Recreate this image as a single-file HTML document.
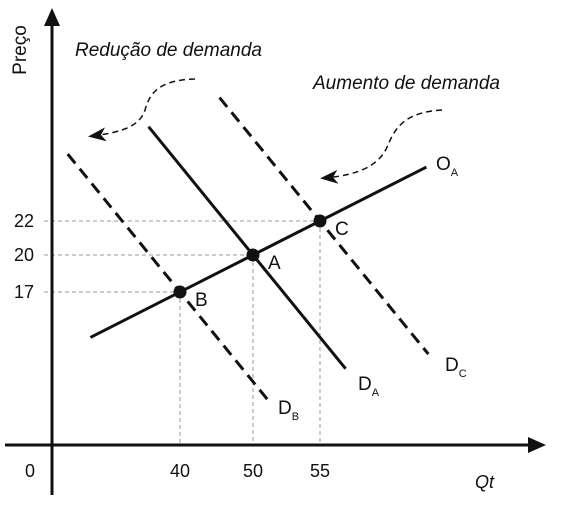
<!DOCTYPE html>
<html><head><meta charset="utf-8"><style>
body{margin:0;background:#fff}
svg{display:block}
text{font-family:"Liberation Sans",sans-serif;fill:#111}
</style></head><body>
<svg id="c" width="585" height="510" viewBox="0 0 585 510">
<defs>
<marker id="ah" markerWidth="18" markerHeight="14" refX="14" refY="7" orient="auto" markerUnits="userSpaceOnUse"><path d="M0,0 L18,7 L0,14 L5,7 Z" fill="#111"/></marker>
</defs>
<g id="g"></g>
<line x1="52" y1="495" x2="52" y2="22" stroke="#111" stroke-width="3"/>
<path d="M52,8 L44,26 L60,26 Z" fill="#111"/>
<line x1="5" y1="445" x2="530" y2="445" stroke="#111" stroke-width="3"/>
<path d="M546,445 L528,437 L528,453 Z" fill="#111"/>
<text x="26" y="50" font-size="19" transform="rotate(-90 26 50)" text-anchor="middle">Preço</text>
<text x="475" y="488" font-size="18" font-style="italic">Qt</text>
<text x="30" y="477" font-size="18" text-anchor="middle">0</text>
<text x="75" y="56" font-size="19" font-style="italic">Redução de demanda</text>
<text x="313" y="89" font-size="19" font-style="italic">Aumento de demanda</text>
<path d="M195,79 C160,80 150,92 145,110 C140,125 125,132 92,136" fill="none" stroke="#111" stroke-width="1.5" stroke-dasharray="6,4" marker-end="url(#ah)"/>
<path d="M442,110 C405,112 395,128 388,145 C380,165 360,175 324,178" fill="none" stroke="#111" stroke-width="1.5" stroke-dasharray="6,4" marker-end="url(#ah)"/>
</svg>
<script>
const qtyTicks=[40,50,55];
const priceTicks=[22,20,17];
const pointLabels=["B","A","C"];
const pointQty=[40,50,55];
const pointPrice=[17,20,22];
const qtyPx=[180,253,320];
const pricePx=[292,255,221];
function interp(v,d,r){
  const n=d.length;let i=0;
  if(v<=d[0])i=0;else if(v>=d[n-1])i=n-2;else{for(i=0;i<n-1;i++)if(v<=d[i+1])break;}
  return r[i]+(v-d[i])*(r[i+1]-r[i])/(d[i+1]-d[i]);
}
const xs=v=>interp(v,[40,50,55],qtyPx);
const ys=v=>interp(v,[17,20,22],pricePx);
const g=document.getElementById('g');
const NS='http://www.w3.org/2000/svg';
function mk(t,a){const e=document.createElementNS(NS,t);for(const k in a)e.setAttribute(k,a[k]);g.appendChild(e);return e;}
priceTicks.forEach(p=>{
  const l=mk('line',{x1:44,x2:xs(pointQty[pointPrice.indexOf(p)]),y1:ys(p),y2:ys(p),stroke:'#999','stroke-width':1,'stroke-dasharray':'4,3'});
  
  
  const t=mk('text',{x:24,y:ys(p)+6,'font-size':18,'text-anchor':'middle'});t.textContent=p;
  
  
});
qtyTicks.forEach(q=>{
  const l=mk('line',{x1:xs(q),x2:xs(q),y1:ys(pointPrice[pointQty.indexOf(q)]),y2:445,stroke:'#999','stroke-width':1,'stroke-dasharray':'4,3'});
  
  
  const t=mk('text',{x:xs(q),y:477,'font-size':18,'text-anchor':'middle'});t.textContent=q;
  
  
});
const ax=xs(pointQty[0]),ay=ys(pointPrice[0]),cx=xs(pointQty[2]),cy=ys(pointPrice[2]);
const sdx=(cx-ax),sdy=(cy-ay);
function seg(px,py,dx,dy,t0,t1,dash,name){
  const l=mk('line',{x1:px+dx*t0,y1:py+dy*t0,x2:px+dx*t1,y2:py+dy*t1,stroke:'#111','stroke-width':3});
  if(dash)l.setAttribute('stroke-dasharray','12,7');
  
  
}
seg(ax,ay,sdx,sdy,-0.64,1.76,false,'supply-curve-oa');
const ddx=197,ddy=242;
seg(xs(pointQty[1]),ys(pointPrice[1]),ddx,ddy,-0.53,0.47,false,'demand-curve-da');
seg(xs(pointQty[0]),ys(pointPrice[0]),ddx,ddy,-0.57,0.45,true,'demand-curve-db');
seg(xs(pointQty[2]),ys(pointPrice[2]),ddx,ddy,-0.51,0.55,true,'demand-curve-dc');
const labs=[["O","A",436,170],["D","A",358,390],["D","B",278,414],["D","C",445,371]];
labs.forEach(L=>{
  const t=mk('text',{x:L[2],y:L[3],'font-size':19});
  t.innerHTML=L[0]+'<tspan font-size="11" dy="6">'+L[1]+'</tspan>';
  
  
});
pointLabels.forEach((n,i)=>{
  const c=mk('circle',{cx:xs(pointQty[i]),cy:ys(pointPrice[i]),r:6.5,fill:'#111'});
  
  
  const t=mk('text',{x:xs(pointQty[i])+15,y:ys(pointPrice[i])+14,'font-size':19});t.textContent=n;
  
  
});
</script>
</body></html>
